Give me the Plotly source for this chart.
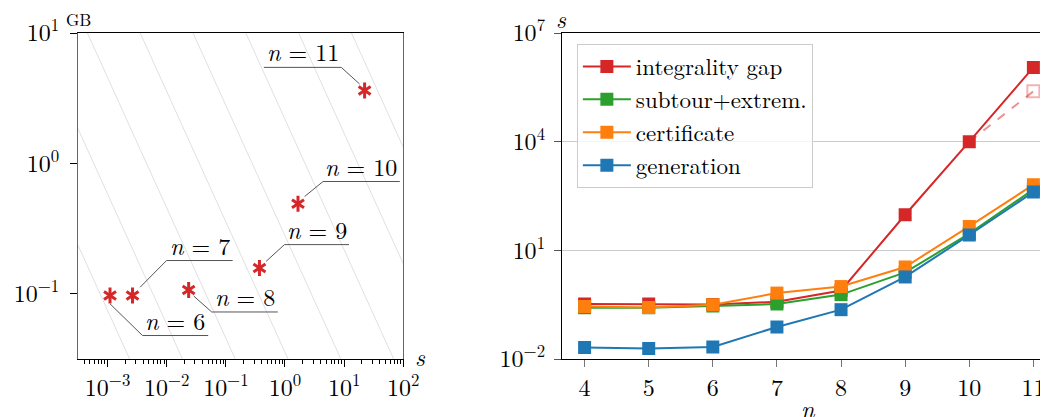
import math
import plotly.graph_objects as go

# ---------------- data ----------------
# left panel: peak memory (GB) vs time (s) for n = 6..11
mem_n = [6, 7, 8, 9, 10, 11]
mem_time_s = [1.1e-3, 2.64e-3, 2.35e-2, 0.37, 1.66, 22.2]
mem_gb = [0.097, 0.097, 0.107, 0.158, 0.49, 3.63]

# reference lines of constant GB*s (log10 of the product)
gb_s_levels_log10 = [-4.127, -3.234, -2.341, -1.448, -0.555, 0.338, 1.231, 2.124]

# right panel: running time (s) vs n
n_values = [4, 5, 6, 7, 8, 9, 10, 11]
integrality_gap = [0.33, 0.33, 0.32, 0.38, 0.78, 96, 1.0e4, 1.12e6]
subtour_extrem = [0.26, 0.26, 0.29, 0.33, 0.60, 2.46, 28.8, 480]
certificate = [0.283, 0.266, 0.316, 0.66, 1.0, 3.47, 45.8, 648]
generation = [0.0209, 0.0196, 0.0214, 0.0764, 0.23, 1.84, 26.5, 407]
gap_alt_n = [10, 11]
gap_alt = [1.0e4, 2.45e5]

series_names = ["integrality gap", "subtour+extrem.", "certificate", "generation"]

# tick labels
left_x_tickvals = [1e-3, 1e-2, 1e-1, 1e0, 1e1, 1e2]
left_x_ticktext = ["10<sup>−3</sup>", "10<sup>−2</sup>", "10<sup>−1</sup>",
                   "10<sup>0</sup>", "10<sup>1</sup>", "10<sup>2</sup>"]
left_y_tickvals = [1e-1, 1e0, 1e1]
left_y_ticktext = ["10<sup>−1</sup>", "10<sup>0</sup>", "10<sup>1</sup>"]
right_y_tickvals = [1e-2, 1e1, 1e4, 1e7]
right_y_ticktext = ["10<sup>−2</sup>", "10<sup>1</sup>", "10<sup>4</sup>", "10<sup>7</sup>"]
right_x_tickvals = n_values

# ---------------- layout / style ----------------
PAGE_OFF = 8            # default body margin of the html page
SX = 0.9825             # horizontal page -> picture scale observed in the snapshot
FIG_W, FIG_H = 1060, 409
# target positions in picture pixels
PLOT_LEFT, PLOT_TOP, PLOT_BOTTOM = 77, 33, 359
PLOT_RIGHT = (PAGE_OFF + FIG_W) * SX
M_L = PLOT_LEFT / SX - PAGE_OFF
M_R = 0
M_T = PLOT_TOP - PAGE_OFF
M_B = PAGE_OFF + FIG_H - PLOT_BOTTOM
PLOT_W = PLOT_RIGHT - PLOT_LEFT
PLOT_H = PLOT_BOTTOM - PLOT_TOP
L_DOMAIN = [0, (401.7 - PLOT_LEFT) / PLOT_W]
R_LEFT = 560
R_DOMAIN = [(R_LEFT - PLOT_LEFT) / PLOT_W, 1]
L_XRANGE = [-3.5, 2]
L_YRANGE = [-1.5, 1]
R_PX_PER_N = 64.0
R_XRANGE = [3.645, 3.645 + (PLOT_RIGHT - R_LEFT) / R_PX_PER_N]
R_YRANGE = [-2, 7]
PX_DEC_X = (L_DOMAIN[1] - L_DOMAIN[0]) * PLOT_W / (L_XRANGE[1] - L_XRANGE[0])
PX_DEC_Y = PLOT_H / (L_YRANGE[1] - L_YRANGE[0])


def px_to_paper(px, py):
    return (px - PLOT_LEFT) / PLOT_W, (PLOT_BOTTOM - py) / PLOT_H


FONT = "Latin Modern Roman"
RED, GREEN, ORANGE, BLUE = "#d62728", "#2ca02c", "#ff7f0e", "#1f77b4"
series_colors = [RED, GREEN, ORANGE, BLUE]

# leader line pixel offsets from each point: start, elbow, end-of-underline (x)
leader_px = {
    6: ((0, 8.3), (32.4, 40), 98),
    7: ((7.6, -8.3), (34, -35), 100),
    8: ((5, 6), (23, 22), 89),
    9: ((6.7, -6.6), (25, -23.3), 89.4),
    10: ((6.6, -7.3), (25, -22.3), 101.6),
    11: ((-5, -6.4), (-23.3, -23), -100.6),
}

fig = go.Figure()

# constant GB*s guide lines
for c in gb_s_levels_log10:
    xs = [10 ** L_XRANGE[0], 10 ** L_XRANGE[1]]
    ys = [10 ** (c - L_XRANGE[0]), 10 ** (c - L_XRANGE[1])]
    fig.add_trace(go.Scatter(x=xs, y=ys, mode="lines", xaxis="x", yaxis="y",
                             line=dict(color="#dcdcdc", width=0.9),
                             showlegend=False, hoverinfo="skip"))


def off(xv, yv, dx, dy):
    lx = math.log10(xv) + dx / PX_DEC_X
    ly = math.log10(yv) - dy / PX_DEC_Y
    return lx, ly


annotations = []
for n, t, g in zip(mem_n, mem_time_s, mem_gb):
    (sx, sy), (ex, ey), tx = leader_px[n]
    p0 = off(t, g, sx, sy)
    p1 = off(t, g, ex, ey)
    p2 = off(t, g, tx, ey)
    fig.add_trace(go.Scatter(x=[10 ** p0[0], 10 ** p1[0], 10 ** p2[0]],
                             y=[10 ** p0[1], 10 ** p1[1], 10 ** p2[1]],
                             mode="lines", xaxis="x", yaxis="y",
                             line=dict(color="#555555", width=1),
                             showlegend=False, hoverinfo="skip"))
    annotations.append(dict(x=(p1[0] + p2[0]) / 2, y=p1[1], xref="x", yref="y",
                            text=f"<i>n</i> = {n}", showarrow=False,
                            xanchor="center", yanchor="bottom", yshift=-3,
                            font=dict(family=FONT, size=24, color="black")))

# asterisk markers (two Y shapes combined)
for sym in ["y-up-open", "y-down-open"]:
    fig.add_trace(go.Scatter(x=mem_time_s, y=mem_gb, mode="markers",
                             xaxis="x", yaxis="y",
                             marker=dict(symbol=sym, size=10, color=RED,
                                         line=dict(width=3, color=RED)),
                             showlegend=False))

# right panel
fig.add_trace(go.Scatter(x=gap_alt_n, y=gap_alt, mode="lines+markers",
                         xaxis="x2", yaxis="y2",
                         line=dict(color="rgba(214,39,40,0.5)", width=2, dash="dash"),
                         marker=dict(symbol="square-open", size=[0, 12],
                                     color="rgba(214,39,40,0.5)",
                                     line=dict(width=2)),
                         showlegend=False))
for name, vals, col in zip(series_names,
                           [integrality_gap, subtour_extrem, certificate, generation],
                           series_colors):
    fig.add_trace(go.Scatter(x=n_values, y=vals, mode="lines+markers", name=name,
                             xaxis="x2", yaxis="y2",
                             line=dict(color=col, width=2),
                             marker=dict(symbol="square", size=13, color=col)))

# axis labels
gb_x, gb_y = px_to_paper(77, 19)
s2_x, s2_y = px_to_paper(560, 18)
s1_x, s1_y = px_to_paper(411, 356)
n_x, n_y = px_to_paper(R_LEFT + (7.5 - R_XRANGE[0]) * R_PX_PER_N, 408)
annotations += [
    dict(x=gb_x, y=gb_y, xref="paper", yref="paper", text="GB",
         showarrow=False, xanchor="center", yanchor="middle",
         font=dict(family=FONT, size=17, color="black")),
    dict(x=s2_x, y=s2_y, xref="paper", yref="paper",
         text="<i>s</i>", showarrow=False, xanchor="center", yanchor="middle",
         font=dict(family=FONT, size=24, color="black")),
    dict(x=s1_x, y=s1_y, xref="paper", yref="paper", text="<i>s</i>",
         showarrow=False, xanchor="left", yanchor="middle",
         font=dict(family=FONT, size=24, color="black")),
    dict(x=n_x, y=n_y, xref="paper", yref="paper", text="<i>n</i>",
         showarrow=False, xanchor="center", yanchor="middle",
         font=dict(family=FONT, size=24, color="black")),
]

minor_vals = [m * 10 ** d for d in range(-4, 2) for m in range(2, 10)]

tickfont = dict(family=FONT, size=24, color="black")
leg_x, leg_y = px_to_paper(575, 44)
fig.update_layout(
    width=FIG_W, height=FIG_H,
    margin=dict(l=M_L, r=M_R, t=M_T, b=M_B, pad=0),
    paper_bgcolor="white", plot_bgcolor="white",
    font=dict(family=FONT, size=24, color="black"),
    annotations=annotations,
    xaxis=dict(domain=L_DOMAIN, type="log", range=L_XRANGE, showgrid=False,
               zeroline=False, showline=True, linecolor="black", linewidth=1,
               mirror=True, ticks="outside", ticklen=7, tickcolor="black",
               tickmode="array", tickvals=left_x_tickvals, ticktext=left_x_ticktext,
               tickfont=tickfont,
               minor=dict(tickmode="array", tickvals=minor_vals, ticks="outside",
                          ticklen=4, tickcolor="black", showgrid=False)),
    yaxis=dict(domain=[0, 1], type="log", range=L_YRANGE, showgrid=False,
               zeroline=False, showline=True, linecolor="#666666", linewidth=1,
               mirror=True, ticks="outside", ticklen=7, tickcolor="black",
               tickmode="array", tickvals=left_y_tickvals, ticktext=left_y_ticktext,
               tickfont=tickfont, ticklabelstandoff=6),
    xaxis2=dict(domain=R_DOMAIN, anchor="y2", range=R_XRANGE, showgrid=False,
                zeroline=False, showline=True, linecolor="black", linewidth=1,
                mirror=True, ticks="outside", ticklen=7, tickcolor="#777777",
                tickmode="array", tickvals=right_x_tickvals, tickfont=tickfont),
    yaxis2=dict(domain=[0, 1], anchor="x2", type="log", range=R_YRANGE,
                showgrid=True, gridcolor="#cccccc", gridwidth=1.2,
                zeroline=False, showline=True, linecolor="black", linewidth=1,
                ticks="outside", ticklen=7, tickcolor="#555555",
                tickmode="array", tickvals=right_y_tickvals, ticktext=right_y_ticktext,
                tickfont=tickfont, ticklabelstandoff=4),
    legend=dict(x=leg_x, y=leg_y, xanchor="left", yanchor="top",
                bgcolor="rgba(255,255,255,0.8)", bordercolor="#cccccc", borderwidth=1,
                font=dict(family=FONT, size=23, color="black"),
                tracegroupgap=0, itemwidth=48),
    showlegend=True,
)

fig.write_html("out.html")
